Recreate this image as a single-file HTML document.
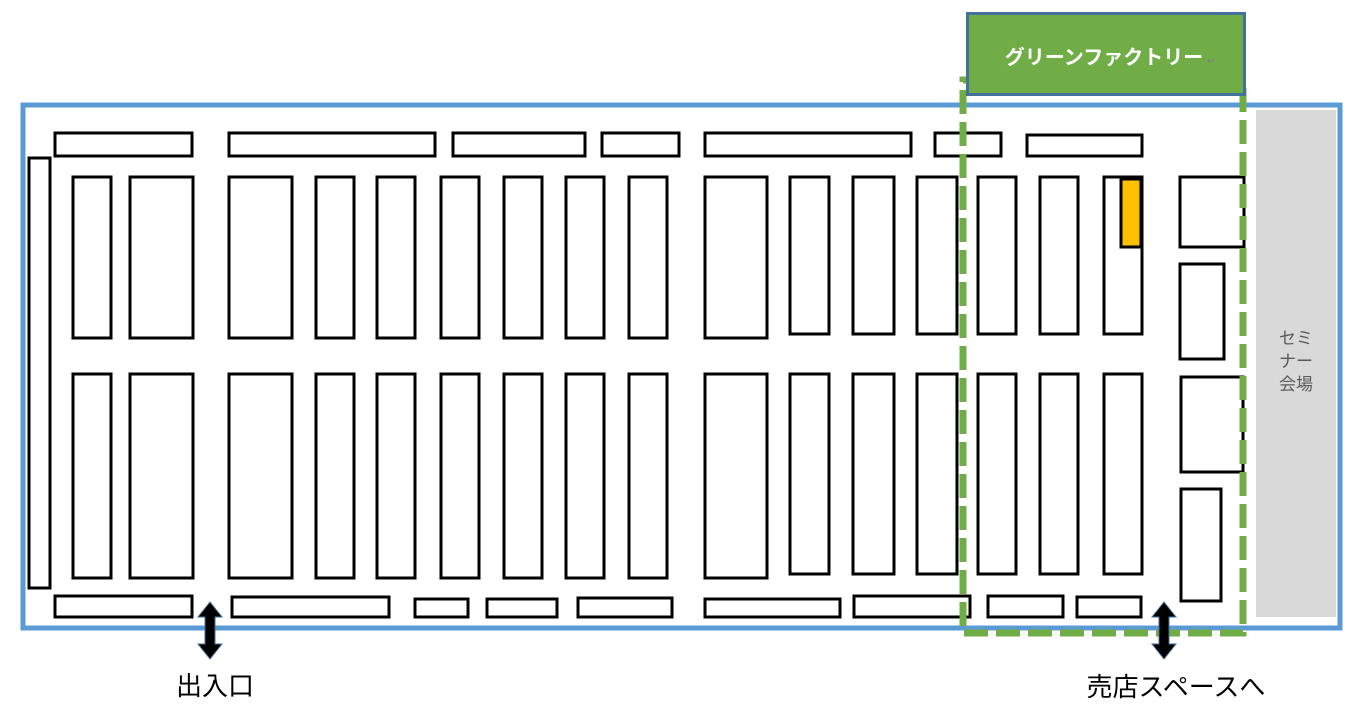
<!DOCTYPE html>
<html><head><meta charset="utf-8"><style>html,body{margin:0;padding:0;background:#fff;width:1356px;height:710px;overflow:hidden}</style></head>
<body>
<svg width="1356" height="710" viewBox="0 0 1356 710" xmlns="http://www.w3.org/2000/svg" font-family="'Liberation Sans','Noto Sans CJK JP',sans-serif">
<rect x="1256" y="110" width="80" height="507" fill="#d9d9d9"/>
<rect x="23" y="105" width="1317" height="523" fill="none" stroke="#5b9bd5" stroke-width="5"/>
<g fill="#fff" stroke="#000" stroke-width="3">
<rect x="55" y="133" width="137" height="23"/><rect x="229" y="133" width="206" height="23"/><rect x="453" y="133" width="132" height="23"/><rect x="602" y="133" width="77" height="23"/><rect x="705" y="133" width="206" height="23"/><rect x="935" y="133" width="66" height="23"/><rect x="1027" y="135" width="115" height="21"/>
<rect x="29" y="158" width="21" height="430"/>
<rect x="73" y="177" width="38" height="161"/><rect x="130" y="177" width="63" height="161"/><rect x="229" y="177" width="63" height="161"/><rect x="316" y="177" width="38" height="161"/><rect x="377" y="177" width="38" height="161"/><rect x="441" y="177" width="38" height="161"/><rect x="504" y="177" width="38" height="161"/><rect x="566" y="177" width="38" height="161"/><rect x="629" y="177" width="38" height="161"/><rect x="705" y="177" width="62" height="161"/><rect x="790" y="177" width="39" height="157"/><rect x="853" y="177" width="41" height="157"/><rect x="917" y="177" width="40" height="157"/><rect x="978" y="177" width="38" height="157"/><rect x="1040" y="177" width="38" height="157"/><rect x="1104" y="177" width="38" height="157"/>
<rect x="73" y="374" width="38" height="204"/><rect x="130" y="374" width="63" height="204"/><rect x="229" y="374" width="63" height="204"/><rect x="316" y="374" width="38" height="204"/><rect x="377" y="374" width="38" height="204"/><rect x="441" y="374" width="38" height="204"/><rect x="504" y="374" width="38" height="204"/><rect x="566" y="374" width="38" height="204"/><rect x="629" y="374" width="38" height="204"/><rect x="705" y="374" width="62" height="204"/><rect x="790" y="374" width="39" height="200"/><rect x="853" y="374" width="41" height="200"/><rect x="917" y="374" width="40" height="200"/><rect x="978" y="374" width="38" height="200"/><rect x="1040" y="374" width="38" height="200"/><rect x="1104" y="374" width="38" height="200"/>
<rect x="1180" y="177" width="64" height="70"/><rect x="1180" y="264" width="44" height="95"/><rect x="1181" y="377" width="62" height="95"/><rect x="1181" y="489" width="40" height="112"/>
<rect x="55" y="596" width="137" height="21"/><rect x="232" y="597" width="157" height="20"/><rect x="415" y="599" width="53" height="18"/><rect x="487" y="599" width="70" height="18"/><rect x="578" y="598" width="94" height="19"/><rect x="705" y="599" width="135" height="18"/><rect x="854" y="596" width="116" height="21"/><rect x="988" y="596" width="75" height="21"/><rect x="1077" y="597" width="64" height="20"/>
</g>
<rect x="1121" y="179" width="20" height="68" fill="#ffc000" stroke="#000" stroke-width="3"/>
<rect x="963" y="80" width="280" height="553" fill="none" stroke="#70ad47" stroke-width="7" stroke-dasharray="24 8"/>
<rect x="967.5" y="13.5" width="277" height="81" fill="#70ad47" stroke="#41719c" stroke-width="3"/>
<text x="1104" y="64" font-size="20" font-weight="bold" fill="#fff" text-anchor="middle">グリーンファクトリー</text>
<text x="1207" y="64" font-size="10" fill="#7f7f7f">↵</text>
<g fill="#000" stroke="#41719c" stroke-width="1">
<polygon points="210,602 222,617 215,617 215,644 222,644 210,659 198,644 205,644 205,617 198,617"/>
<polygon points="1164,602 1176,617 1169,617 1169,644 1176,644 1164,659 1152,644 1159,644 1159,617 1152,617"/>
</g>
<text x="215" y="695" font-size="26" text-anchor="middle" fill="#000">出入口</text>
<text x="1176" y="696" font-size="26" text-anchor="middle" fill="#000">売店スペースへ</text>
<g font-size="17" fill="#595959" text-anchor="middle">
<text x="1296" y="344">セミ</text><text x="1296" y="367">ナー</text><text x="1296" y="390">会場</text>
</g>
</svg>
</body></html>
